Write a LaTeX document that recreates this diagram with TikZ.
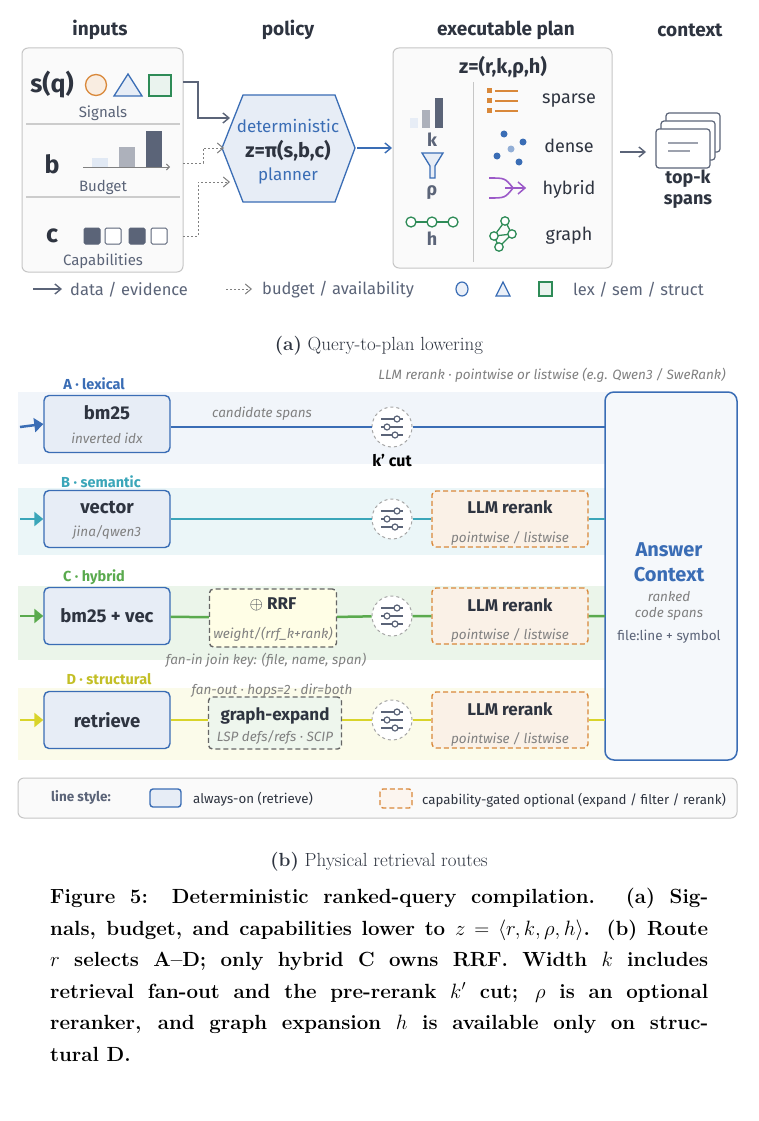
\documentclass[tikz,border=0pt]{standalone}
\usepackage{fontspec}
\setsansfont{Fira Sans}
\usetikzlibrary{arrows.meta}
\definecolor{cb}{HTML}{3A6DB5}
\definecolor{ct}{HTML}{3AA6B9}
\definecolor{cg}{HTML}{5AAA4E}
\definecolor{cy}{HTML}{D9D42A}
\definecolor{co}{HTML}{D9883A}
\definecolor{cgr}{HTML}{5B6478}
\definecolor{ctx}{HTML}{2E3440}
\definecolor{cpu}{HTML}{9B59C8}
\definecolor{cgn}{HTML}{2E8B57}
\tikzset{
 x=1pt,y=-1pt,
 every node/.style={font=\sffamily,text=ctx,inner sep=0pt},
 hdr/.style={font=\sffamily\bfseries\fontsize{19}{22}\selectfont},
 sm/.style={font=\sffamily\fontsize{15}{17}\selectfont,text=cgr},
 it/.style={font=\sffamily\itshape\fontsize{13.5}{15}\selectfont,text=gray},
 big/.style={font=\sffamily\bfseries\fontsize{18.5}{20}\selectfont},
 mid/.style={font=\sffamily\bfseries\fontsize{17}{19}\selectfont},
 panel/.style={draw=gray!45,fill=gray!4,rounded corners=6,line width=1pt},
 rbox/.style={draw=cb,fill=cb!12,rounded corners=5,line width=1.4pt},
 obox/.style={draw=co,fill=co!12,dashed,rounded corners=4,line width=1.4pt,dash pattern=on 5pt off 3pt},
 gbox/.style={draw=gray!80!black,dashed,rounded corners=4,line width=1.4pt,dash pattern=on 5pt off 3pt},
 arr/.style={-{Straight Barb[length=6pt,width=10pt]},line width=1.4pt,draw=cgr},
 darr/.style={-{Straight Barb[length=6pt,width=10pt]},line width=1pt,draw=gray,dash pattern=on 2pt off 2pt},
 lbl/.style={font=\sffamily\bfseries\fontsize{14.5}{16}\selectfont},
}
\newcommand{\slider}[2]{%
 \node[circle,draw=gray!70,dashed,fill=white,minimum size=40pt,line width=1pt] (#2) at (#1) {};
 \begin{scope}[shift={(#1)},line width=1.6pt,draw=cgr]
  \draw[cgr] (-11,-8)--(11,-8); \draw[cgr] (-11,0)--(11,0); \draw[cgr] (-11,8)--(11,8);
  \draw[cgr,fill=white,line width=1.2pt] (5,-8) circle (3) (-5,0) circle (3) (3,8) circle (3);
 \end{scope}}
\begin{document}
\begin{tikzpicture}
\useasboundingbox[fill=white] (0,0) rectangle (758,1121);
% headers
\node[hdr] (h1) at (100,30) {inputs};
\node[hdr] (h2) at (288,30) {policy};
\node[hdr] (h3) at (506,30) {executable plan};
\node[hdr] (h4) at (690,30) {context};
% inputs panel
\draw[panel] (22,48) rectangle (183,272);
\draw[gray!40,line width=1.2pt] (26,124)--(180,124) (26,197)--(180,197);
\node[font=\sffamily\bfseries\fontsize{25}{27}\selectfont] (sq) at (52,85) {s(q)};
\draw[co,fill=co!15,line width=1.3pt] (96,85) circle (10.5);
\draw[cb,fill=cb!12,line width=1.3pt] (128,74)--(142,96)--(114,96)--cycle;
\draw[cgn,fill=cgn!10,line width=1.3pt] (149,75) rectangle (171,96);
\node[sm] (sig) at (103,113) {Signals};
\node[font=\sffamily\bfseries\fontsize{25}{27}\selectfont] (b) at (52,164) {b};
\fill[cb!15] (92,158) rectangle (108,167);
\fill[cgr!50] (119,147) rectangle (135,167);
\fill[cgr] (146,131) rectangle (162,167);
\draw[-{Straight Barb[length=3pt,width=6pt]},gray,line width=1pt] (83,167)--(170,167);
\node[sm] (bud) at (103,187) {Budget};
\node[font=\sffamily\bfseries\fontsize{25}{27}\selectfont] (c) at (52,236) {c};
\foreach \xx/\ff in {92/cgr,113/white,137/cgr,159/white}
 \draw[cgr,fill=\ff,rounded corners=1.5,line width=1pt] (\xx-8,228) rectangle (\xx+8,244);
\node[sm] (cap) at (103,261) {Capabilities};
% hexagon
\draw[cb,fill=cb!12,line width=1.3pt] (243,95)--(335,95)--(355,148)--(335,202)--(243,202)--(222,148)--cycle;
\node (hex) at (288,148) {};
\node[text=cb,font=\sffamily\fontsize{17}{19}\selectfont] (det) at (288,126) {deterministic};
\node[font=\sffamily\bfseries\fontsize{20}{22}\selectfont] (pi) at (288,151) {z=π(s,b,c)};
\node[text=cb,font=\sffamily\fontsize{17}{19}\selectfont] (pl) at (288,176) {planner};
\coordinate (e1) at (230,118); \coordinate (e2) at (224,148); \coordinate (e3) at (230,182);
\draw[arr] (183,82)--(198,82)--(198,118)--(e1);
\draw[darr] (183,163)--(203,163)--(203,148)--(e2);
\draw[darr] (183,236)--(198,236)--(198,182)--(e3);
\coordinate (pin) at (392,148);
\draw[arr,draw=cb] (357,148)--(pin);
% plan panel
\draw[panel] (393,48) rectangle (612,268);
\node[font=\sffamily\bfseries\fontsize{20}{22}\selectfont] (z) at (503,67) {z=(r,k,ρ,h)};
\draw[gray!45,line width=1pt] (473,82)--(473,262);
\fill[cb!12] (410,118) rectangle (418,128);
\fill[cgr!50] (422,110) rectangle (430,128);
\fill[cgr] (435,98) rectangle (443,128);
\node[font=\sffamily\bfseries\fontsize{18}{20}\selectfont,text=cgr] (k) at (432,140) {k};
\draw[cb,fill=cb!12,line width=1.3pt] (422,153)--(443,153)--(435,166)--(435,178)--(430,178)--(430,166)--cycle;
\node[font=\sffamily\bfseries\fontsize{18}{20}\selectfont,text=cgr] (rho) at (432,193) {ρ};
\draw[cgn,line width=1.2pt] (414,222)--(450,222);
\foreach \xx in {411,432,453} \draw[cgn,fill=white,line width=1.3pt] (\xx,222) circle (5);
\node[font=\sffamily\bfseries\fontsize{18}{20}\selectfont,text=cgr] (hh) at (432,239) {h};
\foreach \yy in {91,101,111} {\fill[co] (487,\yy-2.5) rectangle (492,\yy+2.5); \draw[co,line width=2.2pt] (495,\yy)--(518,\yy);}
\foreach \p/\cc in {{504,134}/cb,{523,142}/cb,{511,149}/cb!55,{497,156}/cb,{519,162}/cb} \fill[\cc] (\p) circle (3.5);
\draw[cpu,line width=1.6pt] (489,178) .. controls (505,178) .. (513,188) .. controls (505,198) .. (489,198);
\draw[cpu,line width=1.6pt] (505,188)--(524,188);
\draw[cpu,line width=1.5pt] (518,182)--(525,188)--(518,194);
\begin{scope}[cgn,line width=1.3pt]
 \draw (505,221)--(512,234)--(499,247)--(494,236)--(505,221) (494,236)--(512,234);
 \foreach \p in {{505,221},{512,234},{499,247},{494,236}} \draw[fill=white] (\p) circle (4.2);
\end{scope}
\node[font=\sffamily\fontsize{18}{20}\selectfont] (t1) at (569,101) {sparse};
\node[font=\sffamily\fontsize{18}{20}\selectfont] (t2) at (569,146) {dense};
\node[font=\sffamily\fontsize{18}{20}\selectfont] (t3) at (569,189) {hybrid};
\node[font=\sffamily\fontsize{18}{20}\selectfont] (t4) at (569,236) {graph};
\coordinate (pout) at (620,152); \coordinate (cin) at (646,152);
\draw[arr] (pout)--(cin);
\foreach \dd in {10,5,0} \draw[cgr,fill=white,line width=1.2pt,rounded corners=3] (656+\dd,129-\dd*1.6) rectangle (710+\dd,168-\dd*1.6);
\draw[cgr!60,line width=1.2pt] (668,143)--(698,143) (668,151)--(690,151);
\node[font=\sffamily\bfseries\fontsize{18}{21}\selectfont,align=center] (top) at (688,189) {top-k\\spans};
% legend a
\coordinate (l1) at (33,289); \coordinate (l2) at (62,289);
\draw[arr] (l1)--(l2);
\node[sm,anchor=west,font=\sffamily\fontsize{16.5}{18}\selectfont] (ld) at (70,290) {data / evidence};
\coordinate (l3) at (226,289); \coordinate (l4) at (252,289);
\draw[darr] (l3)--(l4);
\node[sm,anchor=west,font=\sffamily\fontsize{16.5}{18}\selectfont] (lb) at (262,290) {budget / availability};
\draw[cb,fill=cb!10,line width=1.2pt] (462,289) ellipse (6 and 7);
\draw[cb,fill=cb!10,line width=1.2pt] (503,282)--(510,296)--(496,296)--cycle;
\draw[cgn,fill=cgn!10,line width=1.2pt] (539,282) rectangle (552,296);
\node[sm,anchor=west,font=\sffamily\fontsize{16.5}{18}\selectfont] (ll) at (573,290) {lex / sem / struct};
\node[font=\rmfamily\fontsize{19}{22}\selectfont] (capa) at (379,346) {\textbf{(a)} Query-to-plan lowering};
% part b lanes
\fill[cb!7] (18,392) rectangle (610,464);
\fill[ct!10] (18,488) rectangle (610,555);
\fill[cg!12] (18,586) rectangle (610,660);
\fill[cy!10] (18,688) rectangle (610,760);
\node[lbl,text=cb] (la) at (94,384) {A · lexical};
\node[lbl,text=ct] (lbB) at (101,482) {B · semantic};
\node[lbl,text=cg] (lc) at (94,577) {C · hybrid};
\node[lbl,text=cy!90!black] (lD) at (109,679) {D · structural};
\node[it] (llm) at (552,375) {LLM rerank · pointwise or listwise (e.g. Qwen3 / SweRank)};
% answer context
\draw[cb,fill=cb!5,rounded corners=9,line width=1.5pt] (605,392) rectangle (737,760);
\node[text=cb,font=\sffamily\bfseries\fontsize{20}{25}\selectfont,align=center] (ansT) at (669,562) {Answer\\Context};
\node[it,align=center,font=\sffamily\itshape\fontsize{13.5}{16}\selectfont] (rk) at (669,606) {ranked\\code spans};
\node[sm,font=\sffamily\fontsize{13.5}{15}\selectfont] (fl) at (669,637) {file:line + symbol};
% lane A
\node[rbox,minimum width=126,minimum height=57,align=center] (bm) at (107,424) {};
\node[big] at (107,413) {bm25};
\node[it] at (107,438) {inverted idx};
\slider{392,427}{sA}
\draw[cb,line width=2.5pt] (bm.east |- 0,427)--(sA);
\draw[cb,line width=2.5pt] (sA)--(605,427);
\node[it] (cs) at (262,414) {candidate spans};
\node[font=\sffamily\bfseries\fontsize{16}{18}\selectfont,text=black] (kc) at (392,461) {k’ cut};
\coordinate (ia) at (20,427);
\draw[-{Triangle[length=9pt,width=14pt]},cb,line width=2.5pt] (ia)--(bm.west);
% lane B
\node[rbox,minimum width=126,minimum height=57] (vec) at (107,519) {};
\node[big] at (107,508) {vector};
\node[it] at (107,532) {jina/qwen3};
\slider{392,519}{sB}
\node[obox,minimum width=156,minimum height=56] (rB) at (510,519) {};
\node[mid] at (510,507) {LLM rerank};
\node[it] at (510,538) {pointwise / listwise};
\draw[ct,line width=2.5pt] (vec)--(sB) (sB)--(rB) (rB)--(605,519);
\coordinate (ib) at (20,519);
\draw[-{Triangle[length=9pt,width=14pt]},ct,line width=2.5pt] (ib)--(vec.west);
% lane C
\node[rbox,minimum width=126,minimum height=57] (bv) at (107,616) {};
\node[big] at (107,616) {bm25 + vec};
\node[gbox,fill=yellow!10,minimum width=127,minimum height=58] (rrf) at (273,618) {};
\node[mid] at (273,604) {$\oplus$ RRF};
\node[it] at (273,634) {weight/(rrf\_k+rank)};
\slider{392,616}{sC}
\node[obox,minimum width=156,minimum height=56] (rC) at (510,616) {};
\node[mid] at (510,605) {LLM rerank};
\node[it] at (510,635) {pointwise / listwise};
\draw[cg,line width=2.5pt] (bv)--(rrf) (rrf)--(sC) (sC)--(rC) (rC)--(605,616);
\node[it] (fi) at (266,660) {fan-in join key: (file, name, span)};
\coordinate (ic) at (20,616);
\draw[-{Triangle[length=9pt,width=14pt]},cg,line width=2.5pt] (ic)--(bv.west);
% lane D
\node[rbox,minimum width=126,minimum height=57] (rt) at (107,720) {};
\node[big] at (107,720) {retrieve};
\node[gbox,fill=cg!10,minimum width=133,minimum height=52] (ge) at (275,723) {};
\node[mid] at (275,716) {graph-expand};
\node[it] at (275,737) {LSP defs/refs · SCIP};
\slider{392,720}{sD}
\node[obox,minimum width=156,minimum height=56] (rD) at (510,720) {};
\node[mid] at (510,709) {LLM rerank};
\node[it] at (510,739) {pointwise / listwise};
\draw[cy,line width=2.5pt] (rt)--(ge.west |- 0,720) (ge.east |- 0,720)--(sD) (sD)--(rD) (rD)--(605,720);
\node[it] (fo) at (272,691) {fan-out · hops=2 · dir=both};
\coordinate (id) at (20,720);
\draw[-{Triangle[length=9pt,width=14pt]},cy,line width=2.5pt] (id)--(rt.west);
% legend b
\draw[panel] (18,778) rectangle (737,818);
\node[font=\sffamily\bfseries\fontsize{13.5}{15}\selectfont,text=cgr] (ls) at (81,798) {line style:};
\draw[cb,fill=cb!12,rounded corners=3,line width=1.4pt] (150,789) rectangle (181,807);
\node[sm,anchor=west,font=\sffamily\fontsize{13.3}{16}\selectfont,text=ctx] (ao) at (193,799) {always-on (retrieve)};
\draw[co,fill=co!8,dashed,rounded corners=3,line width=1.4pt,dash pattern=on 5pt off 3pt] (380,789) rectangle (412,808);
\node[sm,anchor=west,font=\sffamily\fontsize{13.3}{16}\selectfont,text=ctx] (cg2) at (422,800) {capability-gated optional (expand / filter / rerank)};
\node[font=\rmfamily\fontsize{19}{22}\selectfont] (capb) at (379,862) {\textbf{(b)} Physical retrieval routes};
% main caption
\node[anchor=north west,text width=658,align=justify,font=\rmfamily\bfseries\fontsize{20.5}{31.6}\selectfont,text=black] (cap) at (50,888)
{Figure 5: Deterministic ranked-query compilation. (a) Sig-\linebreak
nals, budget, and capabilities lower to $z=\langle r,k,\rho,h\rangle$. (b) Route\linebreak
$r$ selects A–D; only hybrid C owns RRF. Width $k$ includes\linebreak
retrieval fan-out and the pre-rerank $k'$ cut; $\rho$ is an optional\linebreak
reranker, and graph expansion $h$ is available only on struc-\linebreak
tural D.};
\end{tikzpicture}
\end{document}
